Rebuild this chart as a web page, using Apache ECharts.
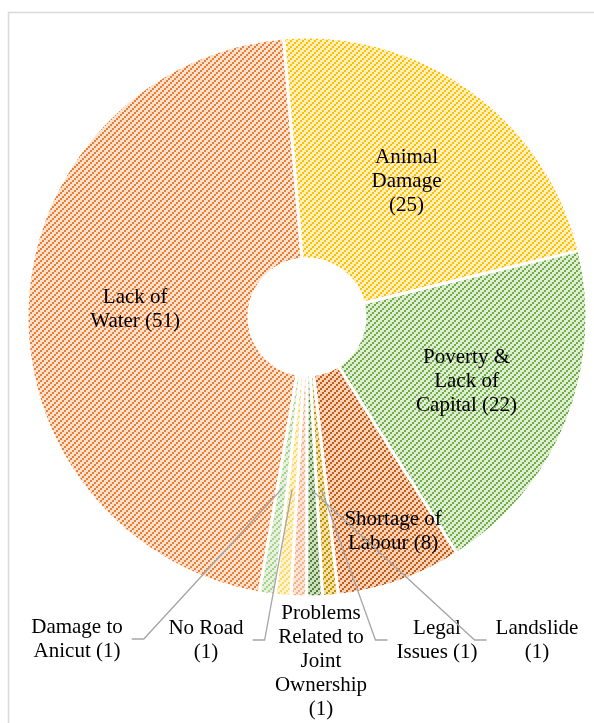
<!DOCTYPE html>
<html>
<head>
<meta charset="utf-8">
<script src="https://cdn.jsdelivr.net/npm/echarts@6/dist/echarts.min.js"></script>
<style>
html,body{margin:0;padding:0;background:#fff;}
#c{width:594px;height:723px;}
</style>
</head>
<body>
<div id="c"></div>
<script>
// ---- data ----
var categories = ['Lack of Water', 'Animal Damage', 'Poverty & Lack of Capital', 'Shortage of Labour',
  'Legal Issues', 'Landslide', 'Problems Related to Joint Ownership', 'No Road', 'Damage to Anicut'];
var values = [51, 25, 22, 8, 1, 1, 1, 1, 1];
// label text as wrapped in the picture (name part), and separator before "(n)"
var wrappedNames = ['Lack of\nWater', 'Animal\nDamage', 'Poverty &\nLack of\nCapital', 'Shortage of\nLabour',
  'Legal\nIssues', 'Landslide', 'Problems\nRelated to\nJoint\nOwnership', 'No Road', 'Damage to\nAnicut'];
var valueSep = [' ', '\n', ' ', ' ', ' ', '\n', '\n', '\n', ' '];

// ---- styles / layout ----
var stripeColors = ['#ED7D31', '#FFC000', '#70AD47', '#C55A11', '#BF9000', '#548235', '#F4B183', '#FFD966', '#A9D18E'];
var bgColors = ['#FBE1CF', '#FFF0C4', '#DFEDD5', '#F5D2BA', '#F3E1A8', '#CCDEBF', '#FCE5D8', '#FFF2CF', '#E6F2DE'];
var outsideLabelPos = {4: [437, 640], 5: [537, 640], 6: [321, 661], 7: [206, 640], 8: [77, 639]};
var insideShift = {1: [-1, 4], 3: [29, 52]};
var noLeader = {6: true};
var font = 'Liberation Serif';
var fontSize = 21;

function labelText(i) { return wrappedNames[i] + valueSep[i] + '(' + values[i] + ')'; }

function makePattern(fg, bg) {
  var cv = document.createElement('canvas');
  cv.width = 6; cv.height = 6;
  var ctx = cv.getContext('2d');
  ctx.fillStyle = bg; ctx.fillRect(0, 0, 6, 6);
  ctx.fillStyle = fg;
  for (var y = 0; y < 6; y++) {
    for (var x = 0; x < 6; x++) {
      if ((Math.floor(x / 2) + Math.floor(y / 2)) % 3 === 0) ctx.fillRect(x, y, 1, 1);
    }
  }
  return { image: cv, repeat: 'repeat' };
}

var chart = echarts.init(document.getElementById('c'), null, { renderer: 'canvas' });

var seriesData = categories.map(function (name, i) {
  var outside = outsideLabelPos[i] !== undefined;
  return {
    name: name,
    value: values[i],
    itemStyle: { color: makePattern(stripeColors[i], bgColors[i]) },
    label: { position: outside ? 'outside' : 'inside', formatter: labelText(i) },
    labelLine: { show: false }
  };
});

chart.setOption({
  animation: false,
  backgroundColor: '#ffffff',
  graphic: [{
    type: 'rect',
    shape: { x: 8.5, y: 12.5, width: 700, height: 800 },
    style: { fill: 'none', stroke: '#d9d9d9', lineWidth: 1.5 },
    silent: true
  }],
  series: [{
    type: 'pie',
    center: [307, 317],
    radius: [58, 280],
    startAngle: -99.8,
    clockwise: true,
    avoidLabelOverlap: false,
    emphasis: { disabled: true },
    itemStyle: { borderColor: '#ffffff', borderWidth: 3, borderJoin: 'round' },
    label: {
      show: true, color: '#000', fontFamily: font, fontSize: fontSize, lineHeight: 24, align: 'center'
    },
    labelLayout: function (p) {
      var i = p.dataIndex;
      var pos = outsideLabelPos[i];
      if (pos) return { x: pos[0], y: pos[1], align: 'center', verticalAlign: 'middle' };
      if (insideShift[i]) return { dx: insideShift[i][0], dy: insideShift[i][1] };
      return {};
    },
    data: seriesData
  }]
});

// leader lines built from the library's slice layout
var mctx = document.createElement('canvas').getContext('2d');
mctx.font = fontSize + 'px "' + font + '"';
var sData = chart.getModel().getSeriesByIndex(0).getData();
var zr = chart.getZr();
Object.keys(outsideLabelPos).forEach(function (k) {
  var i = +k;
  if (noLeader[i]) return;
  var pos = outsideLabelPos[i];
  var lay = sData.getItemLayout(i);
  var mid = (lay.startAngle + lay.endAngle) / 2;
  var rr = (lay.r + lay.r0) / 2 + 4;
  var sx = lay.cx + rr * Math.cos(mid), sy = lay.cy + rr * Math.sin(mid);
  var w = 0;
  labelText(i).split('\n').forEach(function (t) { w = Math.max(w, mctx.measureText(t).width); });
  var side = pos[0] < sx ? 1 : -1;
  var ex = pos[0] + side * (w / 2 + 9);
  var bx = ex + side * 12;
  zr.add(new echarts.graphic.Polyline({
    silent: true, z: 100,
    shape: { points: [[sx, sy], [bx, pos[1]], [ex, pos[1]]] },
    style: { fill: null, stroke: '#a6a6a6', lineWidth: 1.3 }
  }));
});
</script>
</body>
</html>
